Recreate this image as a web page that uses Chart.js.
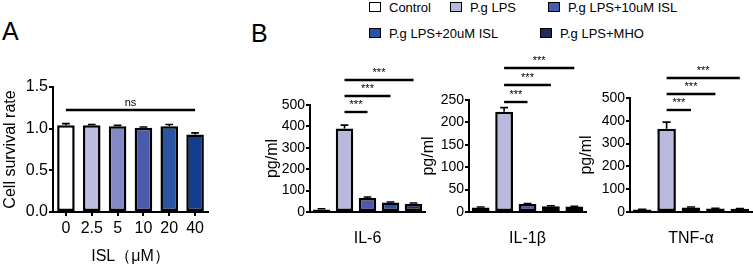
<!DOCTYPE html>
<html>
<head>
<meta charset="utf-8">
<script src="https://cdn.jsdelivr.net/npm/chart.js@4.4.1/dist/chart.umd.min.js"></script>
<style>
body { margin: 0; background: #fff; font-family: "Liberation Sans", Arial, sans-serif; }
#wrap { position: relative; width: 753px; height: 267px; overflow: hidden; }
canvas { position: absolute; top: 0; }
.panel { position: absolute; font-size: 25px; line-height: 25px; color: #000; }
.legend-item { position: absolute; font-size: 13px; line-height: 14px; white-space: nowrap; color: #000; }
.legend-item .box { display: inline-block; width: 10px; height: 8px; border: 1.5px solid #000; margin-right: 8px; vertical-align: 0px; }
</style>
</head>
<body>
<div id="wrap">
  <div class="panel" style="left:2px;top:19px">A</div>
  <div class="panel" style="left:251px;top:21px">B</div>
  <div id="legend"></div>
  <canvas id="chart-a" width="215" height="267" style="left:0"></canvas>
  <canvas id="chart-il6" width="180" height="267" style="left:250px"></canvas>
  <canvas id="chart-il1b" width="170" height="267" style="left:418px"></canvas>
  <canvas id="chart-tnf" width="177" height="267" style="left:576px"></canvas>
</div>
<script>
// panel A - cell survival
var doseLabels = ['0', '2.5', '5', '10', '20', '40'];
var survivalRate = [1.04, 1.04, 1.03, 1.01, 1.03, 0.93];
var survivalErr = [0.02, 0.01, 0.01, 0.01, 0.02, 0.02];
var doseColors = ['#ffffff', '#bcbde0', '#8389c6', '#4c5aab', '#2c54a4', '#133d8f'];

// panel B - cytokines
var groups = ['Control', 'P.g LPS', 'P.g LPS+10uM ISL', 'P.g LPS+20uM ISL', 'P.g LPS+MHO'];
var groupColors = ['#ffffff', '#b9b9dd', '#4b5aa9', '#2b53a3', '#1e2c5c'];
var il6 = [12, 390, 65, 44, 39];
var il6Err = [3, 16, 5, 3, 3];
var il1b = [10, 224, 18, 13, 12];
var il1bErr = [1, 9, 1, 1, 1];
var tnf = [11, 365, 20, 15, 14];
var tnfErr = [1, 29, 2, 1, 1];
var sigPairs = [[1, 2], [1, 3], [1, 4]];

var FONT = '"Liberation Sans", Arial, sans-serif';
Chart.defaults.font.family = FONT;
Chart.defaults.color = '#000';

// legend (html, built from groups)
var legendPos = [[369, 1], [450, 1], [548, 1], [369, 27], [540, 27]];
var legend = document.getElementById('legend');
groups.forEach(function (g, i) {
    var d = document.createElement('div');
    d.className = 'legend-item';
    d.style.left = legendPos[i][0] + 'px';
    d.style.top = legendPos[i][1] + 'px';
    d.innerHTML = '<span class="box" style="background:' + groupColors[i] + '"></span>' + g;
    legend.appendChild(d);
});

var errorBars = {
    id: 'errorBars',
    afterDatasetsDraw: function (chart) {
        var ctx = chart.ctx;
        var y = chart.scales.y;
        chart.data.datasets.forEach(function (ds, di) {
            var meta = chart.getDatasetMeta(di);
            meta.data.forEach(function (bar, i) {
                var top = y.getPixelForValue(ds.data[i] + ds.errors[i]);
                var cap = bar.width * 0.22;
                ctx.save();
                ctx.strokeStyle = '#000';
                ctx.lineWidth = 1.6;
                ctx.beginPath();
                ctx.moveTo(bar.x, bar.y);
                ctx.lineTo(bar.x, top);
                ctx.moveTo(bar.x - cap, top);
                ctx.lineTo(bar.x + cap, top);
                ctx.stroke();
                ctx.restore();
            });
        });
    }
};

var sigBars = {
    id: 'sigBars',
    afterDraw: function (chart, args, opts) {
        var ctx = chart.ctx;
        var meta = chart.getDatasetMeta(0);
        ctx.save();
        ctx.strokeStyle = '#000';
        ctx.fillStyle = '#000';
        ctx.lineWidth = 2.4;
        ctx.textAlign = 'center';
        ctx.textBaseline = 'alphabetic';
        ctx.font = opts.fontSize + 'px ' + FONT;
        opts.pairs.forEach(function (p, k) {
            var ly = chart.chartArea.top + opts.offset - k * opts.step;
            var x1 = meta.data[p[0]].x, x2 = meta.data[p[1]].x;
            ctx.beginPath();
            ctx.moveTo(x1, ly);
            ctx.lineTo(x2, ly);
            ctx.stroke();
            ctx.fillText(opts.label, (x1 + x2) / 2, ly - 4);
        });
        ctx.restore();
    }
};

function axisY(min, max, step, title, width, titleSize, tickSize, fmt) {
    return {
        min: min, max: max,
        border: { color: '#000', width: 2 },
        grid: { drawOnChartArea: false, drawTicks: true, tickLength: 4, color: '#000', lineWidth: 2 },
        ticks: { stepSize: step, padding: 1, font: { size: tickSize }, color: '#000', callback: fmt },
        title: { display: true, text: title, font: { size: titleSize }, padding: { top: 1, bottom: 0 }, color: '#000' },
        afterFit: function (s) { s.width = width; }
    };
}

function makeCytokine(id, label, values, errs, max, step, yWidth, padLeft, padRight, top, pos) {
    new Chart(document.getElementById(id), {
        type: 'bar',
        data: {
            labels: groups,
            datasets: [{
                data: values,
                errors: errs,
                backgroundColor: groupColors,
                borderColor: '#000',
                borderWidth: 2.5,
                borderSkipped: false,
                categoryPercentage: 1,
                barPercentage: 0.76
            }]
        },
        options: {
            responsive: false,
            devicePixelRatio: 1,
            animation: false,
            layout: { padding: { top: top, right: padRight, left: padLeft, bottom: 0 } },
            plugins: {
                legend: { display: false },
                tooltip: { enabled: false },
                sigBars: { pairs: sigPairs, label: '***', offset: pos[0], step: pos[1], fontSize: 11 }
            },
            scales: {
                x: {
                    border: { color: '#000', width: 2 },
                    grid: { display: false },
                    ticks: { display: false },
                    title: { display: true, text: label, font: { size: 16 }, padding: { top: 0, bottom: 19 }, color: '#000' },
                    afterFit: function (s) { s.height = 55; }
                },
                y: axisY(0, max, step, 'pg/ml', yWidth, 16, 14)
            }
        },
        plugins: [errorBars, sigBars]
    });
}

new Chart(document.getElementById('chart-a'), {
    type: 'bar',
    data: {
        labels: doseLabels,
        datasets: [{
            data: survivalRate,
            errors: survivalErr,
            backgroundColor: doseColors,
            borderColor: '#000',
            borderWidth: 2.5,
            borderSkipped: false,
            categoryPercentage: 1,
            barPercentage: 0.68
        }]
    },
    options: {
        responsive: false,
        devicePixelRatio: 1,
        animation: false,
        layout: { padding: { top: 87, right: 7, left: 0, bottom: 0 } },
        plugins: {
            legend: { display: false },
            tooltip: { enabled: false },
            sigBars: { pairs: [[0, 5]], label: 'ns', offset: 23, step: 0, fontSize: 11 }
        },
        scales: {
            x: {
                border: { color: '#000', width: 2 },
                grid: { drawOnChartArea: false, offset: false, drawTicks: true, tickLength: 4, color: '#000', lineWidth: 2 },
                ticks: { font: { size: 16 }, color: '#000', padding: 3, maxRotation: 0 },
                title: { display: true, text: 'ISL（μM）', font: { size: 16 }, padding: { top: 0, bottom: 1 }, color: '#000' },
                afterFit: function (s) { s.height = 55; }
            },
            y: axisY(0, 1.5, 0.5, 'Cell survival rate', 53, 16, 16, function (v) { return v.toFixed(1); })
        }
    },
    plugins: [errorBars, sigBars]
});

makeCytokine('chart-il6', 'IL-6', il6, il6Err, 500, 100, 48, 12, 5, 105, [7, 16]);
makeCytokine('chart-il1b', 'IL-1β', il1b, il1bErr, 250, 50, 51, 0, 2, 100, [2, 17]);
makeCytokine('chart-tnf', 'TNF-α', tnf, tnfErr, 500, 100, 54, 0, 1, 98, [12, 16]);
</script>
</body>
</html>
